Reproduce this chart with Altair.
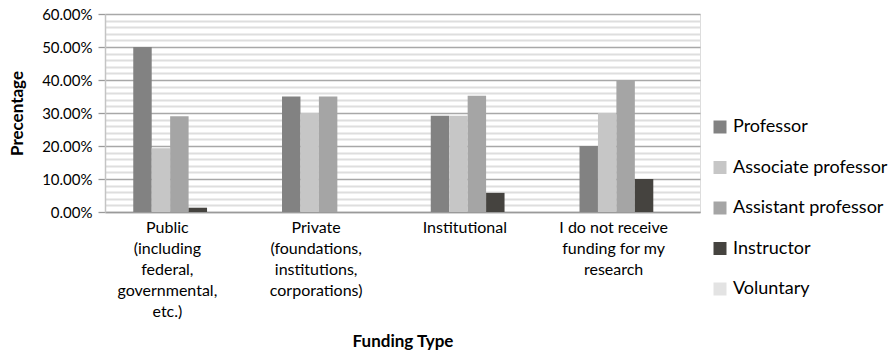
import altair as alt
import pandas as pd

categories = [
    "Public\n(including\nfederal,\ngovernmental,\netc.)",
    "Private\n(foundations,\ninstitutions,\ncorporations)",
    "Institutional",
    "I do not receive\nfunding for my\nresearch",
]
series = ["Professor", "Associate professor", "Assistant professor", "Instructor", "Voluntary"]
professor = [0.500, 0.350, 0.292, 0.200]
associate = [0.193, 0.300, 0.292, 0.300]
assistant = [0.290, 0.350, 0.352, 0.400]
instructor = [0.013, 0.000, 0.058, 0.100]
voluntary = [0.000, 0.000, 0.000, 0.000]
colors = ["#828282", "#c6c6c6", "#a5a5a5", "#45433f", "#e3e3e3"]
tick_values = [round(i * 0.02, 2) for i in range(31)]

values_by_series = [professor, associate, assistant, instructor, voluntary]
rows = []
for s, vals in zip(series, values_by_series):
    for c, v in zip(categories, vals):
        rows.append({"category": c, "series": s, "value": v})
df = pd.DataFrame(rows)

FONT = "Lato"
major = "round(datum.value*100) % 10 == 0"

chart = alt.Chart(df).mark_bar().encode(
    x=alt.X(
        "category:N",
        sort=categories,
        scale=alt.Scale(paddingInner=0.38, paddingOuter=0.19),
        axis=alt.Axis(
            title="Funding Type",
            labelExpr="split(datum.label, '\\n')",
            labelAngle=0,
            labelFont=FONT,
            labelFontSize=16,
            labelColor="#000000",
            labelLineHeight=21,
            labelPadding=7,
            labelOffset=-12,
            labelBaseline="top",
            ticks=False,
            domainColor="#9a9a9a",
            domainWidth=1.5,
            titleFont=FONT,
            titleFontSize=17,
            titleFontWeight="bold",
            titleColor="#000000",
            titlePadding=14,
            grid=False,
        ),
    ),
    xOffset=alt.XOffset("series:N", sort=series, scale=alt.Scale(paddingInner=0, paddingOuter=0)),
    y=alt.Y(
        "value:Q",
        scale=alt.Scale(domain=[0, 0.6], nice=False),
        axis=alt.Axis(
            title="Precentage",
            values=tick_values,
            labelExpr=major + " ? format(datum.value, '.2%') : ''",
            labelFont=FONT,
            labelFontSize=15,
            labelColor="#000000",
            labelPadding=6,
            tickSize=7,
            tickColor={"condition": {"test": major, "value": "#9a9a9a"}, "value": "transparent"},
            tickWidth=1.3,
            domainColor="#c4c4c4",
            domainWidth=1.5,
            grid=True,
            gridColor={"condition": {"test": major, "value": "#a8a8a8"}, "value": "#dedede"},
            gridWidth={"condition": {"test": major, "value": 1.3}, "value": 2},
            titleFont=FONT,
            titleFontSize=17,
            titleFontWeight="bold",
            titleColor="#000000",
            titlePadding=15,
        ),
    ),
    color=alt.Color(
        "series:N",
        sort=series,
        scale=alt.Scale(domain=series, range=colors),
        legend=alt.Legend(
            title=None,
            orient="none",
            legendX=606,
            legendY=104,
            symbolType="square",
            symbolSize=169,
            symbolStrokeWidth=0,
            labelFont=FONT,
            labelFontSize=18,
            labelColor="#000000",
            labelOffset=4,
            rowPadding=22.5,
            padding=0,
        ),
    ),
).properties(
    width=595,
    height=198,
    autosize=alt.AutoSizeParams(type="none"),
    padding={"left": 105, "top": 14, "right": 194, "bottom": 138},
).configure_view(stroke=None).configure(background="#ffffff")

chart.save("out.html", embed_options={"renderer": "svg", "actions": False})
